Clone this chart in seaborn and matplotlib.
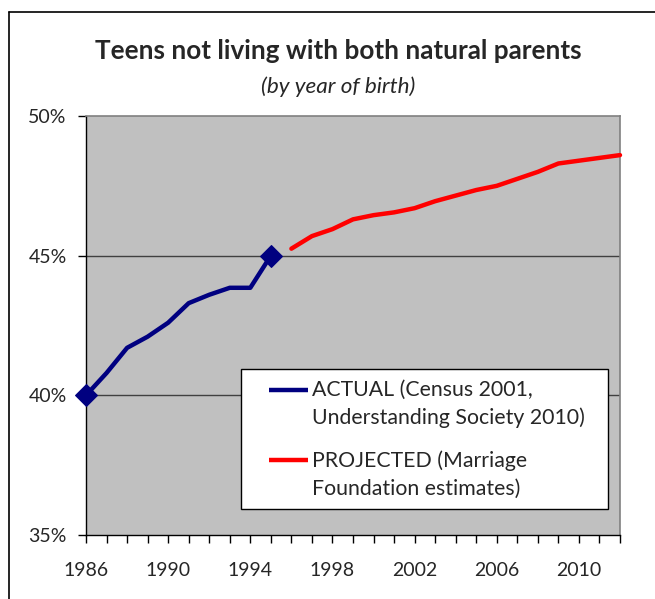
import pandas as pd
import seaborn as sns
import matplotlib.pyplot as plt
from matplotlib.lines import Line2D
from matplotlib.legend_handler import HandlerLine2D
from matplotlib.ticker import MultipleLocator, FuncFormatter

# values (% of teens, by year of birth)
years_actual = [1986, 1987, 1988, 1989, 1990, 1991, 1992, 1993, 1994, 1995]
pct_actual = [40.0, 40.8, 41.7, 42.1, 42.6, 43.3, 43.6, 43.85, 43.85, 45.0]

years_proj = [1996, 1997, 1998, 1999, 2000, 2001, 2002, 2003, 2004,
              2005, 2006, 2007, 2008, 2009, 2010, 2011, 2012]
pct_proj = [45.25, 45.7, 45.95, 46.3, 46.45, 46.55, 46.7, 46.95, 47.15,
            47.35, 47.5, 47.75, 48.0, 48.3, 48.4, 48.5, 48.6]

y_ticks = [35, 40, 45, 50]
x_labels = [1986, 1990, 1994, 1998, 2002, 2006, 2010]

title = "Teens not living with both natural parents"
subtitle = "(by year of birth)"
legend_labels = ["ACTUAL (Census 2001,\nUnderstanding Society 2010)",
                 "PROJECTED (Marriage\nFoundation estimates)"]


# legend line sits next to the first text line, like in Excel
class TopLine(HandlerLine2D):
    def create_artists(self, legend, orig_handle, xdescent, ydescent,
                       width, height, fontsize, trans):
        y = height / 2 - ydescent + 10.6
        line = Line2D([width * 0.31, width], [y, y], color=orig_handle.get_color(),
                      lw=orig_handle.get_linewidth(), solid_capstyle="butt")
        line.set_transform(trans)
        return [line]


sns.set_style("white")
plt.rcParams["font.family"] = ["Lato", "DejaVu Sans"]

df_a = pd.DataFrame({"year": years_actual, "pct": pct_actual})
df_p = pd.DataFrame({"year": years_proj, "pct": pct_proj})

fig = plt.figure(figsize=(6.55, 5.99), dpi=100)
ax = fig.add_axes([86 / 655, 1 - 535 / 599, 534 / 655, 419 / 599])
ax.set_facecolor("#C0C0C0")

# outer chart frame (right and bottom edges are cut off in the original)
fig.add_artist(Line2D([9 / 655, 1.0], [1 - 12 / 599, 1 - 12 / 599], color="black", lw=1.2))
fig.add_artist(Line2D([9 / 655, 9 / 655], [0.0, 1 - 12 / 599], color="black", lw=1.2))

for t in [40, 45]:
    ax.axhline(t, color="#404040", lw=1, zorder=1)

sns.lineplot(data=df_a, x="year", y="pct", ax=ax, color="#000080", lw=3.2,
             marker="D", markersize=11, markevery=[0, len(df_a) - 1],
             markeredgecolor="#000080", zorder=3, clip_on=False)
sns.lineplot(data=df_p, x="year", y="pct", ax=ax, color="#FF0000", lw=3.2,
             zorder=3, clip_on=False)

ax.set_xlim(1986, 2012)
ax.set_ylim(35, 50)
ax.set_xticks(x_labels)
ax.xaxis.set_minor_locator(MultipleLocator(1))
ax.set_yticks(y_ticks)
ax.yaxis.set_major_formatter(FuncFormatter(lambda v, p: f"{v:.0f}%"))
ax.set_xlabel("")
ax.set_ylabel("")
ax.tick_params(axis="x", which="both", direction="out", length=5.5, width=1,
               color="black", bottom=True, labelsize=14, pad=14)
ax.tick_params(axis="y", which="both", direction="out", length=5.5, width=1,
               color="black", left=True, labelsize=14, pad=8.5)

for side in ["left", "bottom"]:
    ax.spines[side].set_color("black")
    ax.spines[side].set_linewidth(1)
for side in ["top", "right"]:
    ax.spines[side].set_color("#808080")
    ax.spines[side].set_linewidth(1.2)

handles = [Line2D([], [], color="#000080", lw=3.2),
           Line2D([], [], color="#FF0000", lw=3.2)]
leg = ax.legend(handles, legend_labels, loc="lower left",
                bbox_to_anchor=(0.29, 0.062, 0.688, 0.3), mode="expand",
                fontsize=15.3, frameon=True, fancybox=False, framealpha=1,
                edgecolor="black", handlelength=2.65, handletextpad=0.2,
                labelspacing=1.05, borderpad=0.5, borderaxespad=0,
                handler_map={Line2D: TopLine()})
leg.get_frame().set_linewidth(1)
for t in leg.get_texts():
    t.set_linespacing(1.46)

fig.text(338 / 655, 1 - 51 / 599, title, ha="center", va="center",
         fontsize=18.8, fontweight="bold")
fig.text(338 / 655, 1 - 87 / 599, subtitle, ha="center", va="center",
         fontsize=16.2, style="italic")

fig.savefig("out.png", dpi=100)
